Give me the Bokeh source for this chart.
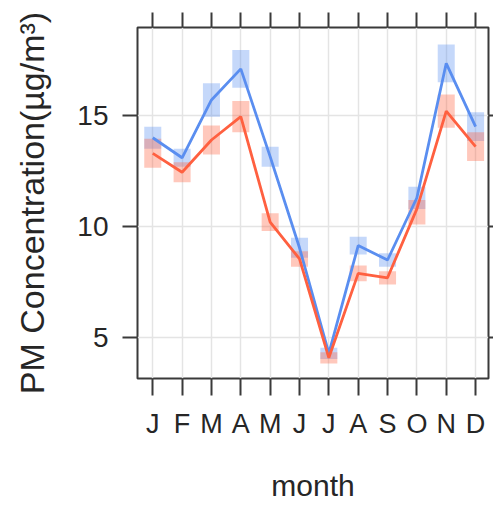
from bokeh.plotting import figure
from bokeh.models import FixedTicker, LinearAxis, Range1d, ColumnDataSource
from bokeh.embed import file_html
from bokeh.resources import INLINE

months = [1, 2, 3, 4, 5, 6, 7, 8, 9, 10, 11, 12]
month_labels = ["J", "F", "M", "A", "M", "J", "J", "A", "S", "O", "N", "D"]

blue_mean = [14.0, 13.1, 15.7, 17.1, 13.15, 9.05, 4.3, 9.15, 8.5, 11.3, 17.35, 14.5]
blue_low = [13.5, 12.7, 14.95, 16.25, 12.7, 8.6, 4.05, 8.75, 8.2, 10.8, 16.5, 13.85]
blue_high = [14.5, 13.5, 16.45, 17.95, 13.6, 9.5, 4.55, 9.55, 8.8, 11.8, 18.2, 15.15]

red_mean = [13.3, 12.45, 13.9, 14.95, 10.2, 8.55, 4.1, 7.9, 7.7, 10.8, 15.2, 13.6]
red_low = [12.65, 12.0, 13.25, 14.25, 9.8, 8.2, 3.85, 7.55, 7.4, 10.1, 14.45, 12.95]
red_high = [13.95, 12.9, 14.55, 15.65, 10.6, 8.9, 4.35, 8.25, 8.0, 11.2, 15.95, 14.25]

yticks = [5, 10, 15]

BLUE = "#5A8EF0"
RED = "#FF6040"
FRAME = "#3a3a3a"
TEXT = "#262626"

p = figure(frame_width=351, frame_height=351, output_backend="svg", toolbar_location=None,
           x_range=Range1d(0.48, 12.44), y_range=Range1d(3.17, 18.96),
           min_border_left=137, min_border_right=4, min_border_top=27, min_border_bottom=125)

p.background_fill_color = "white"
p.border_fill_color = "white"
p.outline_line_color = FRAME
p.outline_line_width = 2

p.xgrid.ticker = FixedTicker(ticks=months)
p.ygrid.ticker = FixedTicker(ticks=yticks)
for g in (p.xgrid, p.ygrid):
    g.grid_line_color = "#e4e4e4"
    g.grid_line_width = 1.5

bsrc = ColumnDataSource(dict(x=months, y=blue_mean, lo=blue_low, hi=blue_high))
rsrc = ColumnDataSource(dict(x=months, y=red_mean, lo=red_low, hi=red_high))

p.vbar(x="x", bottom="lo", top="hi", width=0.58, source=bsrc,
       fill_color=BLUE, fill_alpha=0.35, line_color=None)
p.vbar(x="x", bottom="lo", top="hi", width=0.58, source=rsrc,
       fill_color=RED, fill_alpha=0.35, line_color=None)
p.line(x="x", y="y", source=bsrc, line_color=BLUE, line_width=2.8)
p.line(x="x", y="y", source=rsrc, line_color=RED, line_width=2.8)

# Bottom axis
xa = p.xaxis[0]
xa.ticker = FixedTicker(ticks=months)
xa.major_label_overrides = {m: l for m, l in zip(months, month_labels)}
xa.axis_label = "month"

# Left axis
ya = p.yaxis[0]
ya.ticker = FixedTicker(ticks=yticks)
ya.axis_label = "PM Concentration(\u00b5g/m\u00b3)"

for ax in (xa, ya):
    ax.axis_line_color = None
    ax.major_tick_line_color = FRAME
    ax.major_tick_line_width = 2
    ax.major_tick_in = 0
    ax.minor_tick_line_color = None
    ax.major_label_text_color = TEXT
    ax.axis_label_text_color = TEXT
    ax.major_label_text_font = "Liberation Sans"
    ax.axis_label_text_font = "Liberation Sans"
    ax.axis_label_text_font_style = "normal"

xa.major_tick_out = 17
xa.major_label_standoff = 13
xa.major_label_text_font_size = "27px"
xa.axis_label_text_font_size = "30px"
xa.axis_label_standoff = 27

ya.major_tick_out = 15
ya.major_label_standoff = 14
ya.major_label_text_font_size = "28px"
ya.axis_label_text_font_size = "34px"
ya.axis_label_standoff = 23

# Top axis (ticks only)
top = LinearAxis(ticker=FixedTicker(ticks=months), axis_line_color=None,
                 major_tick_line_color=FRAME, major_tick_line_width=2,
                 major_tick_in=0, major_tick_out=15, minor_tick_line_color=None,
                 major_label_overrides={m: "" for m in months},
                 major_label_text_font_size="1px", major_label_standoff=0)
p.add_layout(top, "above")

# Right axis (ticks only, mostly cut off in reference)
right = LinearAxis(ticker=FixedTicker(ticks=yticks), axis_line_color=None,
                   major_tick_line_color=FRAME, major_tick_line_width=2,
                   major_tick_in=0, major_tick_out=5, minor_tick_line_color=None,
                   major_label_overrides={t: "" for t in yticks},
                   major_label_text_font_size="1px", major_label_standoff=0)
p.add_layout(right, "right")

open("out.html", "w").write(file_html(p, INLINE))
